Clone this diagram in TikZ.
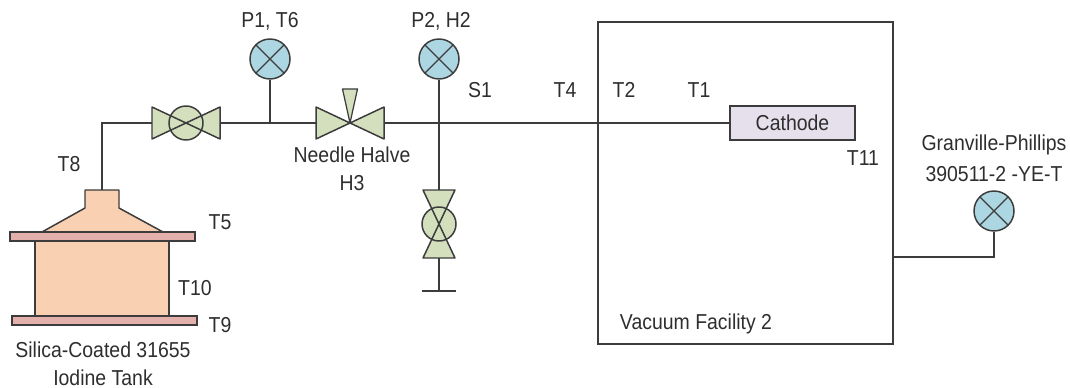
\documentclass[tikz,border=0pt]{standalone}
\usepackage{fontspec}
\setmainfont[FakeStretch=0.9]{Liberation Sans}
\usetikzlibrary{positioning}
\definecolor{linegray}{HTML}{3C3C3C}
\definecolor{textgray}{HTML}{2E2E2E}
\definecolor{gaugeblue}{HTML}{ADD6E3}
\definecolor{valvegreen}{HTML}{D4DFBD}
\definecolor{tankorange}{HTML}{FAD0B2}
\definecolor{flangepink}{HTML}{E4B0AB}
\definecolor{cathodelilac}{HTML}{E5E0EC}
\tikzset{
  lbl/.style={text=textgray, font=\fontsize{12.3}{14}\selectfont, inner sep=0pt, align=center},
  pipe/.style={draw=linegray, line width=0.85pt},
  gauge/.style={circle, draw=linegray, line width=0.85pt, fill=gaugeblue, minimum size=0.8cm, inner sep=0pt,
    path picture={\draw[linegray, line width=0.75pt]
      (path picture bounding box.north west) -- (path picture bounding box.south east)
      (path picture bounding box.north east) -- (path picture bounding box.south west);}},
  flange/.style={rectangle, draw=linegray, line width=0.85pt, fill=flangepink, minimum width=3.7cm, minimum height=0.18cm, inner sep=0pt},
  pics/ballvalve/.style={code={
    \fill[valvegreen] (-34,-16) -- (34,16) -- (34,-16) -- (-34,16) -- cycle;
    \fill[valvegreen] (0,0) circle (17);
    \draw[pipe, line join=round] (-34,-16) -- (34,16) -- (34,-16) -- (-34,16) -- cycle (0,0) circle (17);
    \coordinate (-in) at (-34,0);
    \coordinate (-out) at (34,0);
  }},
  pics/needlevalve/.style={code={
    \fill[valvegreen] (-34,-16) -- (34,16) -- (34,-16) -- (-34,16) -- cycle;
    \draw[pipe, line join=round] (-34,-16) -- (34,16) -- (34,-16) -- (-34,16) -- cycle;
    \draw[draw=linegray, line width=0.7pt, fill=valvegreen, line join=round] (-7.5,-34) -- (7.5,-34) -- (0,0) -- cycle;
    \coordinate (-in) at (-34,0);
    \coordinate (-out) at (34,0);
  }},
}
\begin{document}
\begin{tikzpicture}[x=0.02cm, y=-0.02cm]
    \useasboundingbox (0,0) rectangle (1070,388);

    % facility and cathode
    \node[draw=linegray, line width=0.85pt, minimum width=5.9cm, minimum height=6.44cm, inner sep=0pt] (facility) at (745.5,183) {};
    \node[rectangle, draw=linegray, line width=0.85pt, fill=cathodelilac, minimum width=2.5cm, minimum height=0.68cm, inner sep=0pt, lbl] (cathode) at (792.5,123) {Cathode};

    % tank
    \coordinate (tanktop) at (102,190);
    \draw[pipe, fill=tankorange, line join=round] (42,232) -- (85,208) -- (85,190) -- (119,190) -- (119,208) -- (163,232) -- cycle;
    \node[rectangle, draw=linegray, line width=0.85pt, fill=tankorange, minimum width=2.68cm, minimum height=1.5cm, inner sep=0pt] (tank) at (102,278.5) {};
    \node[flange] (flangetop) at (102.5,236.5) {};
    \node[flange] (flangebottom) at (104.5,320.5) {};

    % valves and gauges
    \pic (valveone) at (186,123) {ballvalve};
    \pic (needle) at (350,123) {needlevalve};
    \pic[rotate=-90] (valvetwo) at (439,224) {ballvalve};
    \node[gauge] (gaugeone) at (270,59) {};
    \node[gauge] (gaugetwo) at (439,59) {};
    \node[gauge] (gaugethree) at (994,211) {};

    \coordinate (teeone) at (270,123);
    \coordinate (teetwo) at (439,123);
    \coordinate (corner) at (102,123);
    \coordinate (drain) at (439,291);
    \coordinate (drainleft) at (422,291);
    \coordinate (drainright) at (456,291);
    \coordinate (wallport) at (893,257);
    \coordinate (gaugecorner) at (994,257);

    % pipes
    \draw[pipe] (tanktop) -- (corner) -- (valveone-in);
    \draw[pipe] (valveone-out) -- (needle-in);
    \draw[pipe] (needle-out) -- (cathode.west);
    \draw[pipe] (gaugeone) -- (teeone);
    \draw[pipe] (gaugetwo) -- (valvetwo-in);
    \draw[pipe] (valvetwo-out) -- (drain);
    \draw[pipe] (drainleft) -- (drainright);
    \draw[pipe] (wallport) -- (gaugecorner) -- (gaugethree);

    % labels
    \node[lbl] (lblponetsix) at (270,21) {P1, T6};
    \node[lbl] (lblptwohtwo) at (441,21) {P2, H2};
    \node[lbl] (lblsone) at (480,90) {S1};
    \node[lbl] (lbltfour) at (565,90) {T4};
    \node[lbl] (lblttwo) at (624,90) {T2};
    \node[lbl] (lbltone) at (699,90) {T1};
    \node[lbl] (lbltelev) at (863,158) {T11};
    \node[lbl] (lbltate) at (69,164) {T8};
    \node[lbl] (lbltfive) at (220,222) {T5};
    \node[lbl] (lblten) at (195,288) {T10};
    \node[lbl] (lbltnine) at (220,325) {T9};
    \node[lbl] (lblneedle) at (352,155) {Needle Halve};
    \node[lbl] (lblhthree) at (352,183) {H3};
    \node[lbl] (lbltank) at (103,350) {Silica-Coated 31655};
    \node[lbl] (lbliodine) at (103,378) {Iodine Tank};
    \node[lbl] (lblfacility) at (696,324) {Vacuum Facility 2};
    \node[lbl] (lblgranville) at (994,145) {Granville-Phillips};
    \node[lbl] (lblmodel) at (994,174) {390511-2 -YE-T};
\end{tikzpicture}
\end{document}
